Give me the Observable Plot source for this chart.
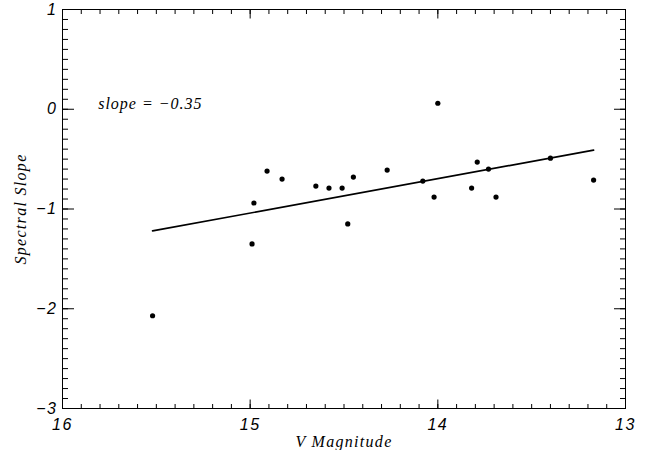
<!DOCTYPE html>
<html>
<head>
<meta charset="utf-8">
<script src="https://cdn.jsdelivr.net/npm/d3@7"></script>
<script src="https://cdn.jsdelivr.net/npm/@observablehq/plot@0.6"></script>
<style>
  html, body { margin: 0; padding: 0; background: #fff; }
  svg { display: block; }
</style>
</head>
<body>
<div id="chart"></div>
<script>
// Data
const vMag = [15.52, 14.98, 14.99, 14.91, 14.83, 14.65, 14.58, 14.51, 14.48, 14.45,
              14.27, 14.00, 14.08, 14.02, 13.82, 13.79, 13.73, 13.69, 13.40, 13.17];
const specSlope = [-2.07, -0.94, -1.35, -0.62, -0.70, -0.77, -0.79, -0.79, -1.15, -0.68,
                   -0.61, 0.06, -0.72, -0.88, -0.79, -0.53, -0.60, -0.88, -0.49, -0.71];
// Fitted line end points (as drawn in the reference)
const fitX = [15.52, 13.17];
const fitY = [-1.22, -0.41];
const annotation = "slope\u00a0=\u00a0\u22120.35";
const annotationPos = {x: 15.81, y: 0.05};
const xLabel = "V Magnitude";
const yLabel = "Spectral Slope";

const xMajor = [16, 15, 14, 13];
const yMajor = [-3, -2, -1, 0, 1];
const xMinor = d3.range(0, 31).map(i => +(13 + i * 0.1).toFixed(2));
const yMinor = d3.range(0, 41).map(i => +(-3 + i * 0.1).toFixed(2));

const points = vMag.map((v, i) => ({v, s: specSlope[i]}));
const fit = fitX.map((v, i) => ({v, s: fitY[i]}));

const tickFont = "Liberation Sans, Arial, sans-serif";
const serif = "Liberation Serif, DejaVu Serif, serif";
const fmt = d3.format("d");

const chart = Plot.plot({
  width: 647,
  height: 450,
  marginLeft: 62,
  marginRight: 22,
  marginTop: 9,
  marginBottom: 42,
  style: {background: "#fff", color: "#000"},
  x: {domain: [16, 13], range: [62, 625]},
  y: {domain: [-3, 1]},
  marks: [
    Plot.frame({stroke: "#000", strokeWidth: 1}),
    // bottom & top minor/major ticks (inward)
    Plot.axisX({anchor: "bottom", ticks: xMinor, tickSize: -4, label: null, text: null}),
    Plot.axisX({anchor: "bottom", ticks: xMajor, tickSize: -8.5, label: null, text: null}),
    Plot.axisX({anchor: "top", ticks: xMinor, tickSize: -4, label: null, text: null}),
    Plot.axisX({anchor: "top", ticks: xMajor, tickSize: -8.5, label: null, text: null}),
    // left & right
    Plot.axisY({anchor: "left", ticks: yMinor, tickSize: -6, label: null, text: null}),
    Plot.axisY({anchor: "left", ticks: yMajor, tickSize: -12, label: null, text: null}),
    Plot.axisY({anchor: "right", ticks: yMinor, tickSize: -6, label: null, text: null}),
    Plot.axisY({anchor: "right", ticks: yMajor, tickSize: -12, label: null, text: null}),
    // tick labels
    Plot.axisX({anchor: "bottom", ticks: xMajor, tickSize: 0, tickPadding: 10, tickFormat: fmt,
      fontSize: 16, fontStyle: "italic", fontFamily: tickFont, label: null}),
    Plot.axisY({anchor: "left", ticks: yMajor, tickSize: 0, tickPadding: 5, tickFormat: fmt,
      fontSize: 16, fontStyle: "italic", fontFamily: tickFont, label: null}),
    // axis titles
    Plot.text([xLabel], {frameAnchor: "bottom", dy: 33, text: d => d, textAnchor: "middle", lineAnchor: "middle",
      fontSize: 16, fontStyle: "italic", fontFamily: serif, fill: "#000"}),
    Plot.text([yLabel], {frameAnchor: "left", dx: -42, rotate: -90, text: d => d, textAnchor: "middle", lineAnchor: "middle",
      fontSize: 16, fontStyle: "italic", fontFamily: serif, fill: "#000"}),
    Plot.line(fit, {x: "v", y: "s", stroke: "#000", strokeWidth: 1.7}),
    Plot.dot(points, {x: "v", y: "s", r: 2.6, fill: "#000", stroke: "none"}),
    Plot.text([annotation], {x: annotationPos.x, y: annotationPos.y, text: d => d,
      textAnchor: "start", fontSize: 16, fontStyle: "italic", fontFamily: serif, fill: "#000"})
  ]
});
// widen letter spacing to mimic the reference's stroke font
const tickSet = new Set([...xMajor, ...yMajor].map(fmt));
chart.querySelectorAll("text").forEach(t => {
  const s = t.textContent;
  let ls = null;
  if (s === xLabel || s === yLabel) ls = "1.3";
  else if (s === annotation) ls = "1";
  else if (tickSet.has(s)) ls = "1.5";
  if (ls) { t.setAttribute("letter-spacing", ls); t.style.letterSpacing = ls + "px"; }
});
document.getElementById("chart").appendChild(chart);
</script>
</body>
</html>
